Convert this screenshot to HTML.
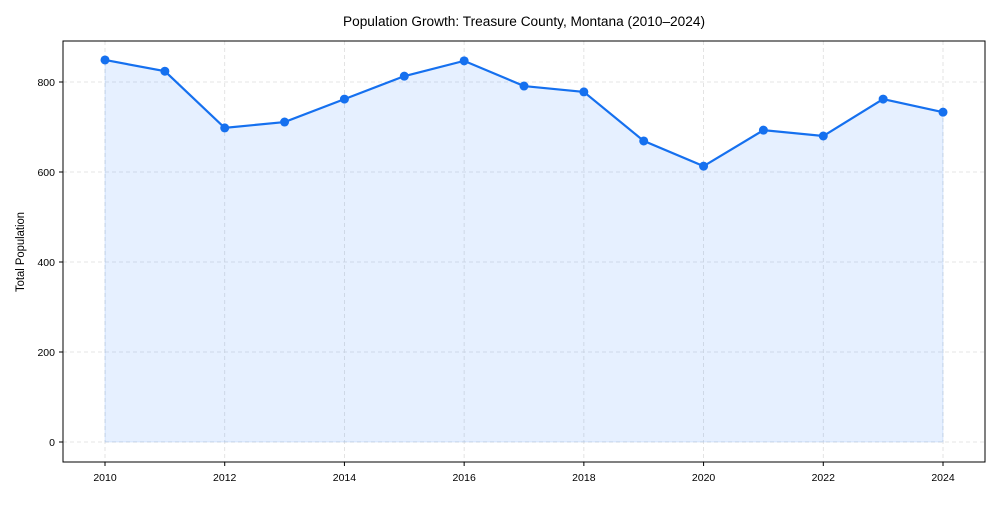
<!DOCTYPE html>
<html><head><meta charset="utf-8"><style>
body{margin:0;background:#fff;font-family:"Liberation Sans",Arial,sans-serif}
svg text{font-family:"Liberation Sans",Arial,sans-serif;fill:#000}
</style></head><body>
<svg id="chart" width="1000" height="500">
<text x="524" y="26" font-size="13.5" text-anchor="middle" textLength="362" lengthAdjust="spacingAndGlyphs">Population Growth: Treasure County, Montana (2010–2024)</text>
<text transform="translate(24,252) rotate(-90)" font-size="11.5" text-anchor="middle" textLength="80" lengthAdjust="spacingAndGlyphs">Total Population</text>
<g id="grid"></g><g id="area"></g><g id="marks"></g><g id="ticks"></g>
<rect x="63" y="41" width="922" height="421" fill="none" stroke="#000" stroke-width="1"/>
</svg>
<script>
const years=[2010,2011,2012,2013,2014,2015,2016,2017,2018,2019,2020,2021,2022,2023,2024];
const population=[849,824,698,711,762,813,847,791,778,669,613,693,680,762,733];
const xTicks=[2010,2012,2014,2016,2018,2020,2022,2024];
const yTicks=[0,200,400,600,800];
const NS="http://www.w3.org/2000/svg";
const x=v=>105+(v-2010)*(943-105)/14;
const y=v=>442-v*0.45;
function mk(t,a,p){const e=document.createElementNS(NS,t);for(const k in a)e.setAttribute(k,a[k]);p.appendChild(e);return e;}
const grid=document.getElementById('grid'),ticks=document.getElementById('ticks'),area=document.getElementById('area'),marks=document.getElementById('marks');
xTicks.forEach(t=>{
const g=mk('line',{x1:x(t),x2:x(t),y1:41,y2:462,stroke:'#ddd','stroke-dasharray':'4,3','stroke-width':0.8},grid);


mk('line',{x1:x(t),x2:x(t),y1:462,y2:466,stroke:'#000'},ticks);
const l=mk('text',{x:x(t),y:481,'font-size':10.5,'text-anchor':'middle'},ticks);l.textContent=t;


});
yTicks.forEach(t=>{
const g=mk('line',{x1:63,x2:985,y1:y(t),y2:y(t),stroke:'#ddd','stroke-dasharray':'4,3','stroke-width':0.8},grid);


mk('line',{x1:59,x2:63,y1:y(t),y2:y(t),stroke:'#000'},ticks);
const l=mk('text',{x:55,y:y(t)+4,'font-size':10.5,'text-anchor':'end'},ticks);l.textContent=t;


});
const pts=years.map((yr,i)=>x(yr)+','+y(population[i]));
const ar=mk('polygon',{points:x(years[0])+','+y(0)+' '+pts.join(' ')+' '+x(years[years.length-1])+','+y(0),fill:'#3d8bfd','fill-opacity':0.13,stroke:'#1a73e8','stroke-opacity':0.12},area);


const ln=mk('polyline',{points:pts.join(' '),fill:'none',stroke:'#1570ef','stroke-width':2.2},marks);


years.forEach((yr,i)=>{
const c=mk('circle',{cx:x(yr),cy:y(population[i]),r:4.5,fill:'#1570ef'},marks);


});
</script>
</body></html>
